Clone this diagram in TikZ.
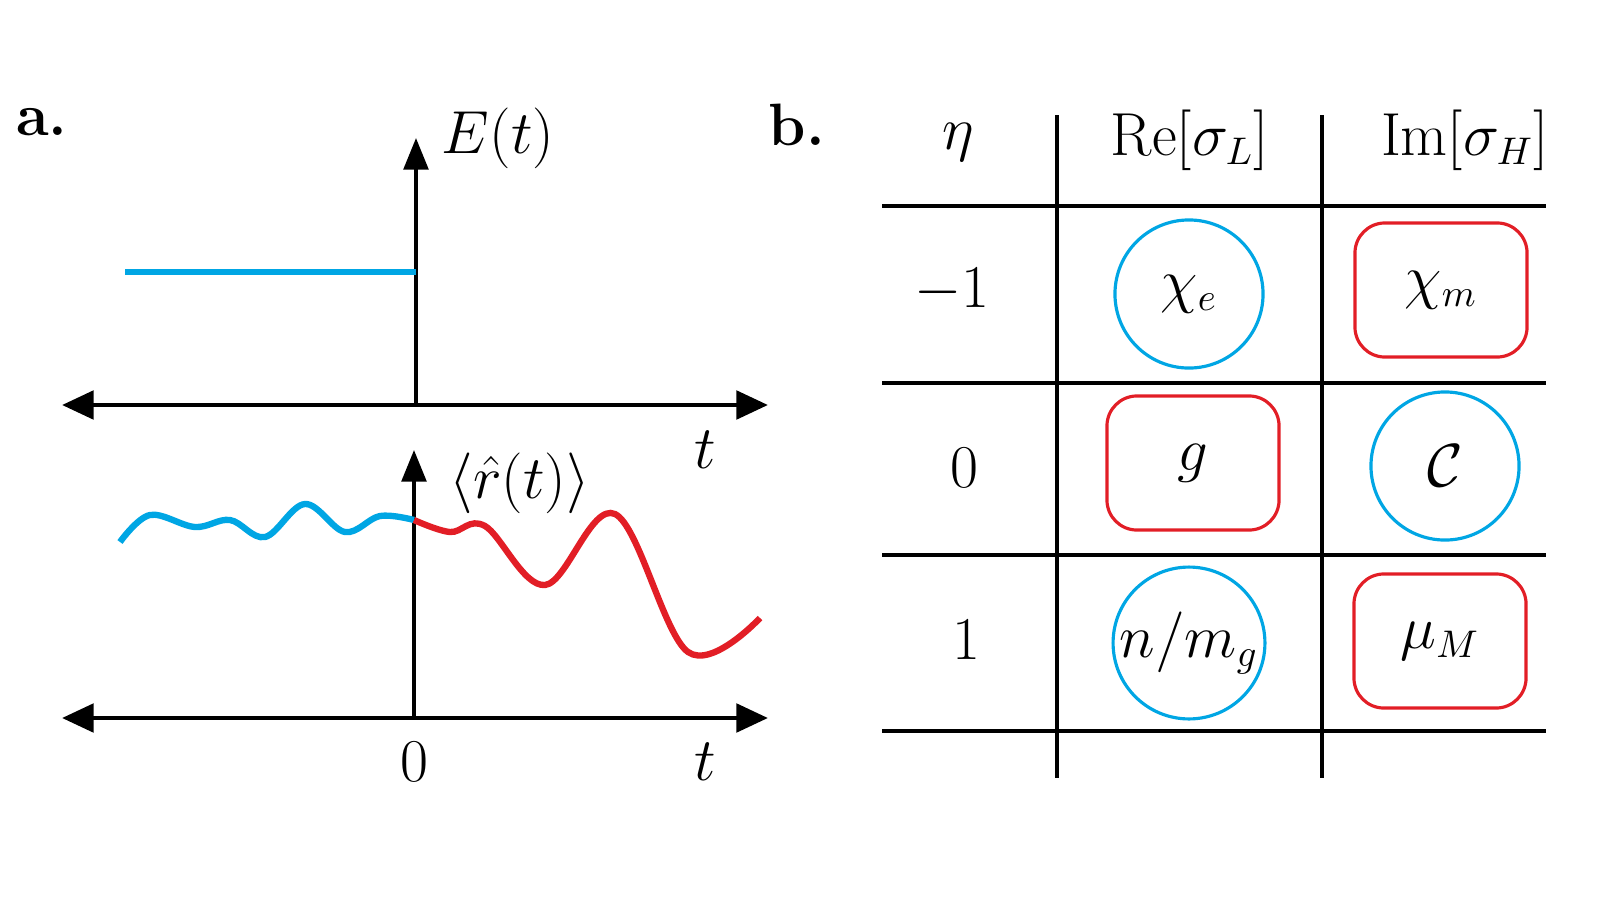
\documentclass[tikz,border=0pt]{standalone}
\usepackage{amsmath}
\usetikzlibrary{arrows.meta,positioning}
\definecolor{cyanline}{RGB}{0,166,228}
\definecolor{redline}{RGB}{226,30,38}
\begin{document}
\begin{tikzpicture}[x=0.01cm,y=-0.01cm,
    axis/.style={line width=1.4pt,{Triangle[length=9pt,width=8pt]}-{Triangle[length=9pt,width=8pt]}},
    vaxis/.style={line width=1.1pt,-{Triangle[length=9pt,width=7pt]}},
    grid/.style={line width=1.1pt},
    big/.style={font=\fontsize{19}{22}\selectfont},
    tab/.style={font=\fontsize{16}{19}\selectfont},
    ring/.style={draw=cyanline,line width=0.9pt,circle,inner sep=0pt,minimum size=1.48cm,tab},
    box/.style={draw=redline,line width=0.9pt,rounded corners=0.3cm,minimum width=1.72cm,minimum height=1.34cm,tab}]

% panel a
\node[font=\fontsize{17}{20}\bfseries] (la) at (42,122) {a.};
\coordinate (u1) at (62,405); \coordinate (u2) at (768,405);
\coordinate (u0) at (416,405); \coordinate (utop) at (416,138);
\draw[axis] (u1) -- (u2);
\draw[vaxis] (u0) -- (utop);
\node[big] (Et) at (498,138) {$E(t)$};
\node[big] (t1) at (705,450) {$t$};
\coordinate (e0) at (125,272); \coordinate (e1) at (416,272);
\draw[cyanline,line width=1.8pt] (e0) -- (e1);

\coordinate (l1) at (62,718); \coordinate (l2) at (768,718);
\coordinate (l0) at (414,718); \coordinate (ltop) at (414,450);
\draw[axis] (l1) -- (l2);
\draw[vaxis] (l0) -- (ltop);
\node[big] (rt) at (520,483) {$\langle\hat r(t)\rangle$};
\node[big] (zero) at (414,762) {$0$};
\node[big] (t2) at (705,762) {$t$};
\draw[cyanline,line width=1.8pt] plot[smooth,tension=0.6] coordinates
  {(120,542) (150,515) (195,527) (230,520) (265,537) (305,504) (345,532) (380,516) (414,520)};
\draw[redline,line width=1.8pt] plot[smooth,tension=0.6] coordinates
  {(414,520) (450,532) (485,526) (545,585) (615,514) (688,652) (760,618)};

% panel b
\node[font=\fontsize{17}{20}\bfseries] (lb) at (797,125) {b.};
\foreach \y in {206,383,555,731}
  \draw[grid] (882,\y) -- (1546,\y);
\foreach \x in {1057,1322}
  \draw[grid] (\x,115) -- (\x,778);
\node[tab] (eta) at (958,142) {$\eta$};
\node[tab] (re) at (1190,140) {$\mathrm{Re}[\sigma_L]$};
\node[tab] (im) at (1465,140) {$\mathrm{Im}[\sigma_H]$};
\node[tab] (rm) at (952,290) {$-1$};
\node[tab] (r0) at (964,468) {$0$};
\node[tab] (rp) at (966,640) {$1$};
\node[ring] (chie) at (1189,294) {$\chi_e$};
\node[box] (chim) at (1441,290) {$\chi_m$};
\node[box] (g) at (1193,463) {$g$};
\node[ring] (C) at (1445,466) {$\mathcal{C}$};
\node[ring] (nm) at (1189,643) {$n/m_g$};
\node[box] (mu) at (1440,641) {$\mu_M$};

\pgfresetboundingbox
\useasboundingbox (0,0) rectangle (1600,900);
\end{tikzpicture}
\end{document}
